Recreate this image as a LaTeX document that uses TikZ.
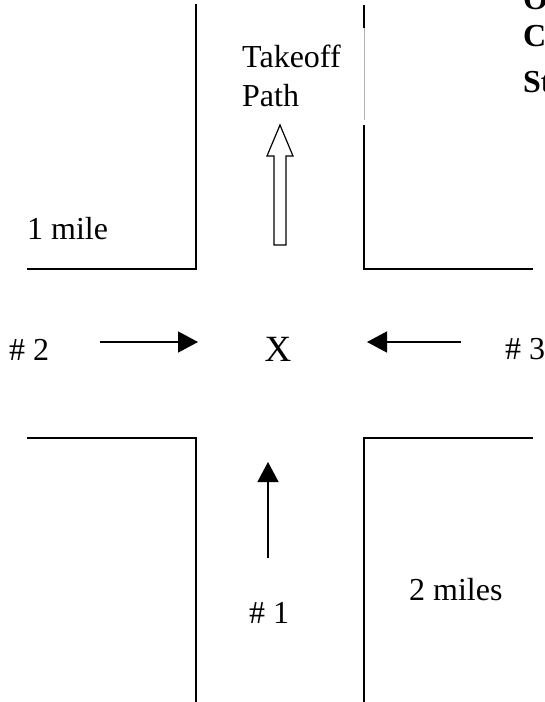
\documentclass[tikz,border=0pt]{standalone}
\usepackage{fontspec}
\setmainfont{Liberation Serif}
\usetikzlibrary{arrows.meta}

\begin{document}
\begin{tikzpicture}[x=1pt,y=-1pt,
    road/.style={line width=1.6pt,line join=miter},
    flow/.style={line width=1.5pt,-{Triangle[length=20pt,width=21pt]}},
    lbl/.style={inner sep=0pt,anchor=base west,font=\fontsize{32}{39}\selectfont},
    head/.style={lbl,font=\fontsize{32}{39}\selectfont\bfseries}]
    \useasboundingbox (0,0) rectangle (545,702);
    \clip (0,0) rectangle (545,702);
    % corners of the four blocks
    \draw[road] (196,4) -- (196,269) -- (27,269);
    \draw[road] (364,5) -- (364,28);
    \draw[gray!60,line width=0.6pt] (364,28) -- (364,120);
    \draw[road] (364,125) -- (364,269) -- (533,269);
    \draw[road] (27,438) -- (196,438) -- (196,702);
    \draw[road] (533,438) -- (364,438) -- (364,702);
    % labels
    \node[lbl,align=left] (takeoff) at (242,106) {Takeoff\\Path};
    \node[lbl] (mile) at (27,239) {1 mile};
    \node[lbl] (miles) at (409,600) {2 miles};
    \node[lbl] (n2) at (9,360) {\# 2};
    \node[lbl] (n3) at (505,359) {\# 3};
    \node[lbl] (n1) at (249,623) {\# 1};
    \node[inner sep=0pt,anchor=base,font=\fontsize{37}{44}\selectfont] (x) at (278,361) {X};
    \node[head] (o) at (523,9) {O};
    \node[head] (c) at (523,46) {C};
    \node[head] (st) at (523,92) {St};
    % takeoff arrow
    \draw[line width=1.2pt,fill=white] (274,245) -- (274,156) -- (267,156) -- (280,125)
      -- (293,156) -- (286,156) -- (286,245) -- cycle;
    % approach arrows
    \coordinate (a2) at (100,342); \coordinate (b2) at (198,342);
    \coordinate (a3) at (461,342); \coordinate (b3) at (367,342);
    \coordinate (a1) at (268,558); \coordinate (b1) at (268,462);
    \draw[flow] (a2) -- (b2);
    \draw[flow] (a3) -- (b3);
    \draw[flow] (a1) -- (b1);
\end{tikzpicture}
\end{document}
